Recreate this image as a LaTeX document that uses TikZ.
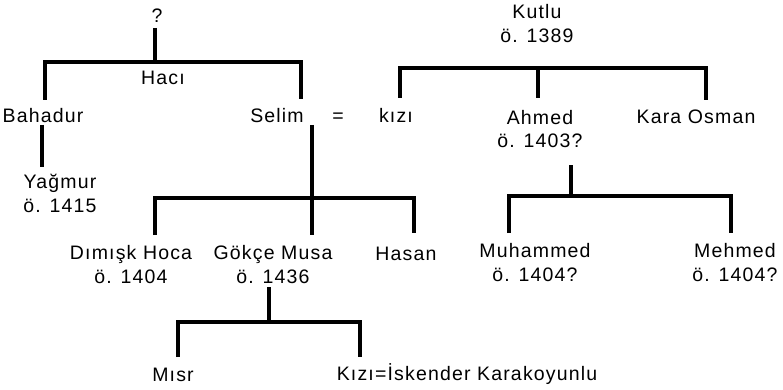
\documentclass[tikz,border=0pt]{standalone}
\usepackage{fontspec}
\setmainfont{Liberation Sans}[LetterSpace=6]
\begin{document}
\begin{tikzpicture}[x=1pt, y=-1pt,
		person/.style = {anchor=base, inner sep=0pt, align=center,
			font=\fontsize{19.5}{24}\selectfont},
		kinline/.style = {line width=3.2pt}
	]
	\useasboundingbox (0,0) rectangle (783,390);
	% names (two-line names sit on the baseline of their last line)
	\node[person] (unknown) at (157,23) {?};
	\node[person] (haci) at (163,85) {Hacı};
	\node[person] (bahadur) at (43,123) {Bahadur};
	\node[person] (selim) at (277,123) {Selim};
	\node[person] (marriage) at (338,123) {=};
	\node[person] (kizi) at (396,123) {kızı};
	\node[person] (kutlu) at (537,43) {Kutlu\\ö. 1389};
	\node[person] (ahmed) at (540,148) {Ahmed\\ö. 1403?};
	\node[person] (karaosman) at (696,124) {Kara Osman};
	\node[person] (yagmur) at (60,212) {Yağmur\\ö. 1415};
	\node[person] (dimisk) at (131,283) {Dımışk Hoca\\ö. 1404};
	\node[person] (gokce) at (273,283) {Gökçe Musa\\ö. 1436};
	\node[person] (hasan) at (406,260) {Hasan};
	\node[person] (muhammed) at (535,281) {Muhammed\\ö. 1404?};
	\node[person] (mehmed) at (735,281) {Mehmed\\ö. 1404?};
	\node[person] (misr) at (173,381) {Mısr};
	\node[person] (kiziiskender) at (467,380) {Kızı=İskender Karakoyunlu};
	% Hacı's children
	\coordinate (haciTop) at (155,28);
	\coordinate (haciBar) at (155,62);
	\coordinate (bahadurTop) at (45,100);
	\coordinate (selimTop) at (301,99);
	\draw[kinline] (haciTop) -- (haciBar);
	\draw[kinline] (bahadurTop) -- (bahadurTop |- haciBar) -- (selimTop |- haciBar) -- (selimTop);
	% Bahadur to Yağmur
	\coordinate (bahadurFoot) at (42,125);
	\coordinate (yagmurTop) at (42,167);
	\draw[kinline] (bahadurFoot) -- (yagmurTop);
	% Selim's children
	\coordinate (selimFoot) at (312,125);
	\coordinate (selimBar) at (312,198);
	\coordinate (dimiskTop) at (155,235);
	\coordinate (gokceTop) at (312,235);
	\coordinate (hasanTop) at (414,233);
	\draw[kinline] (selimFoot) -- (gokceTop);
	\draw[kinline] (dimiskTop) -- (dimiskTop |- selimBar) -- (hasanTop |- selimBar) -- (hasanTop);
	% Kutlu's children
	\coordinate (kutluBar) at (538,68);
	\coordinate (kiziTop) at (400,98);
	\coordinate (ahmedTop) at (538,98);
	\coordinate (karaosmanTop) at (706,100);
	\draw[kinline] (kiziTop) -- (kiziTop |- kutluBar) -- (karaosmanTop |- kutluBar) -- (karaosmanTop);
	\draw[kinline] (kutluBar) -- (ahmedTop);
	% Ahmed's children
	\coordinate (ahmedFoot) at (571,165);
	\coordinate (ahmedBar) at (571,196);
	\coordinate (muhammedTop) at (509,233);
	\coordinate (mehmedTop) at (731,233);
	\draw[kinline] (ahmedFoot) -- (ahmedBar);
	\draw[kinline] (muhammedTop) -- (muhammedTop |- ahmedBar) -- (mehmedTop |- ahmedBar) -- (mehmedTop);
	% Gökçe Musa's children
	\coordinate (gokceFoot) at (269,287);
	\coordinate (gokceBar) at (269,322);
	\coordinate (misrTop) at (178,357);
	\coordinate (kiziiskenderTop) at (360,357);
	\draw[kinline] (gokceFoot) -- (gokceBar);
	\draw[kinline] (misrTop) -- (misrTop |- gokceBar) -- (kiziiskenderTop |- gokceBar) -- (kiziiskenderTop);
\end{tikzpicture}
\end{document}
